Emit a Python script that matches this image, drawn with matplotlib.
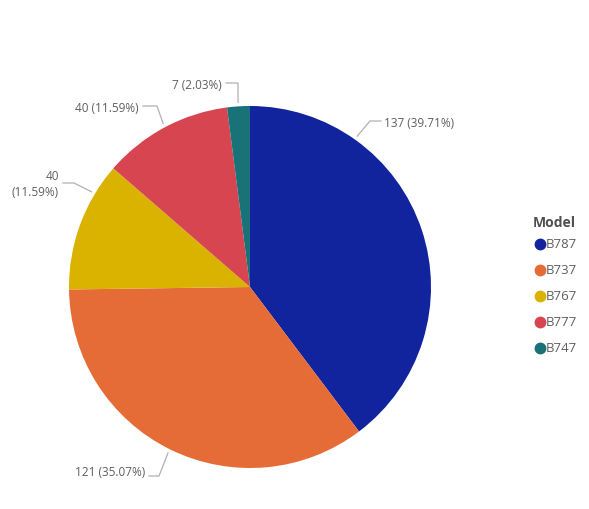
import math

import matplotlib
matplotlib.use("Agg")
import matplotlib.pyplot as plt

models = ["B787", "B737", "B767", "B777", "B747"]
counts = [137, 121, 40, 40, 7]
colors = ["#12239E", "#E66C37", "#D9B300", "#D64550", "#197278"]

W, H = 589, 509
CX, CY, R = 250, 287, 181
TXT = "#605E5C"
LINE = "#B3B0AD"

# leader layout per slice: start angle on rim, elbow point, text anchor, alignment
lead_ang = [54.6, 243.7, 149.0, 118.0, 93.7]
elbows = [(370, 121), (159, 476), (74, 183), (157, 106), (238, 83)]
text_at = [(384, 123), (145, 473), (59, 184), (139, 108), (222, 85)]
text_ha = ["left", "right", "right", "right", "right"]

plt.rcParams["font.family"] = ["Open Sans", "DejaVu Sans"]

fig = plt.figure(figsize=(W / 100, H / 100), dpi=100)
ax = fig.add_axes([0, 0, 1, 1])


def py(y):
    return H - y


ax.pie(counts, colors=colors, startangle=90, counterclock=False,
       center=(CX, py(CY)), radius=R, frame=True,
       wedgeprops=dict(linewidth=0))
ax.set_xlim(0, W)
ax.set_ylim(0, H)
ax.axis("off")

total = sum(counts)
for i, v in enumerate(counts):
    a = math.radians(lead_ang[i])
    sx = CX + 185 * math.cos(a)
    sy = CY - 185 * math.sin(a)
    ex, ey = elbows[i]
    tx, ty = text_at[i]
    hx = tx + (-3 if text_ha[i] == "left" else 4)
    ax.plot([sx, ex, hx], [py(sy), py(ey), py(ey)], color=LINE, lw=0.9)
    sep = "\n" if models[i] == "B767" else " "
    label = "%d%s(%.2f%%)" % (v, sep, 100.0 * v / total)
    ax.text(tx, py(ty), label, ha=text_ha[i], va="center", fontsize=8.5,
            color=TXT, linespacing=1.3)

# legend drawn by hand so spacing follows the reference
ax.text(533, py(223), "Model", ha="left", va="center", fontsize=10,
        fontweight="bold", color="#505050")
for i, (m, c) in enumerate(zip(models, colors)):
    ly = 244 + 26 * i
    ax.plot([540], [py(ly)], marker="o", markersize=7.5, color=c, ls="")
    ax.text(546, py(ly), m, ha="left", va="center", fontsize=9.5, color=TXT)

fig.savefig("out.png", dpi=100)
